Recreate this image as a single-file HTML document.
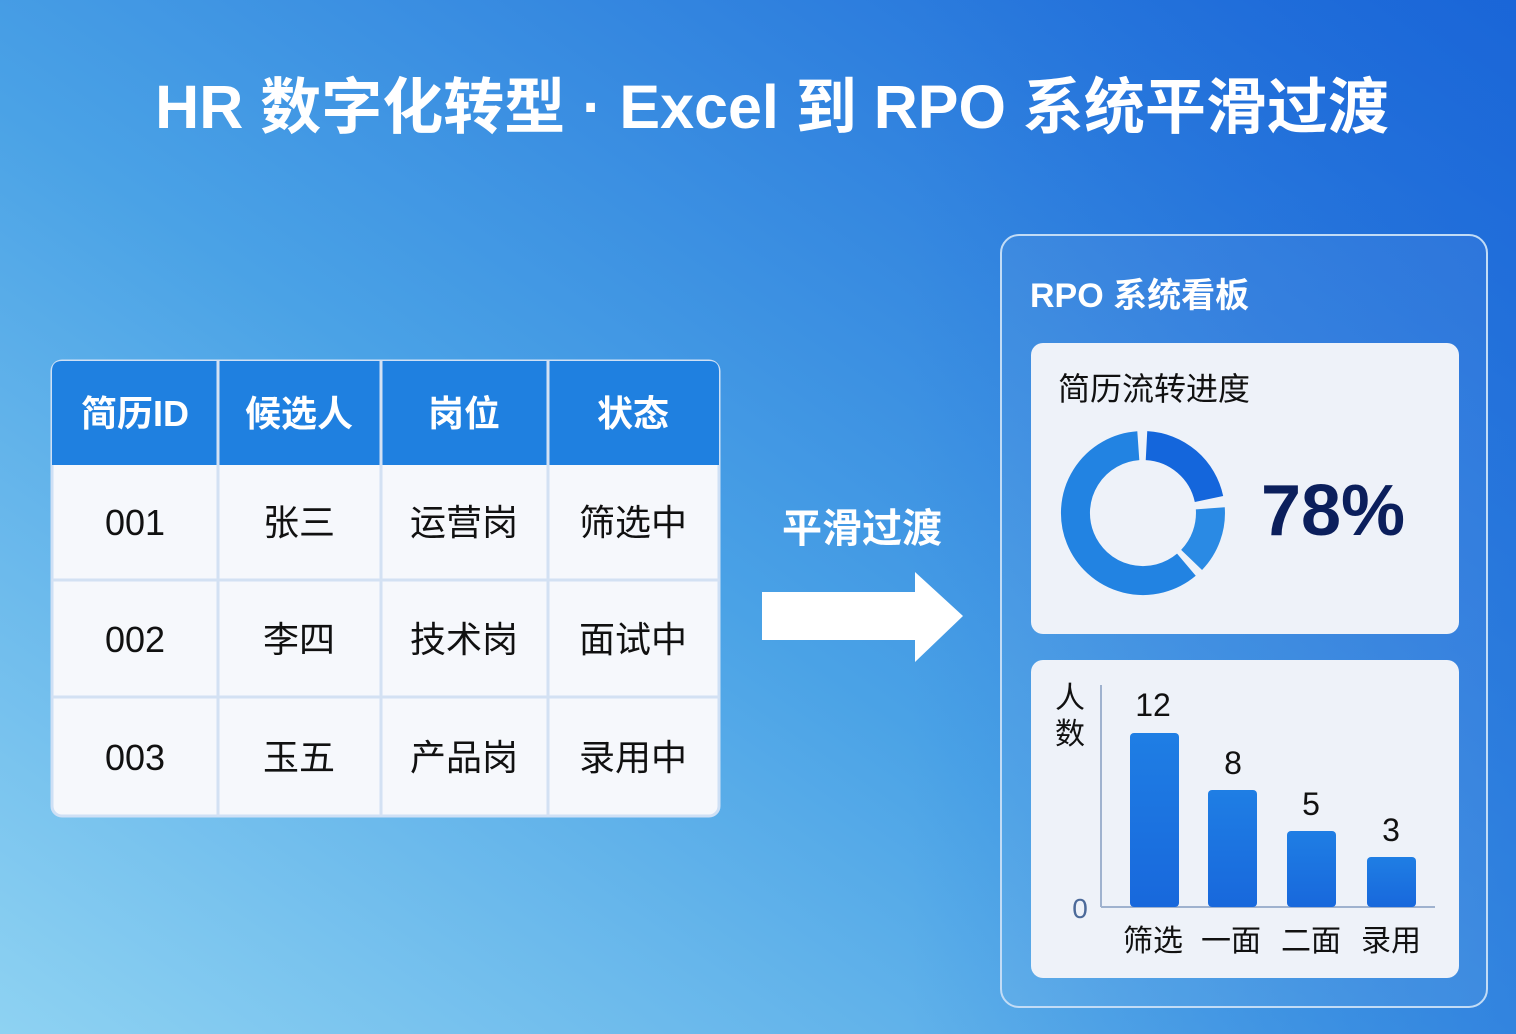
<!DOCTYPE html>
<html><head><meta charset="utf-8"><style>
html,body{margin:0;padding:0;}
body{width:1516px;height:1034px;overflow:hidden;font-family:"Liberation Sans","Noto Sans CJK SC",sans-serif;}
</style></head><body>
<svg width="1516" height="1034" viewBox="0 0 1516 1034" xmlns="http://www.w3.org/2000/svg" style="display:block;font-family:'Liberation Sans','Noto Sans CJK SC',sans-serif">
<defs>
<linearGradient id="bg" x1="0" y1="1" x2="1" y2="0">
<stop offset="0" stop-color="#8ed2f2"/>
<stop offset="0.45" stop-color="#4aa2e6"/>
<stop offset="1" stop-color="#1a66d8"/>
</linearGradient>
<linearGradient id="bg2" x1="0" y1="0" x2="1" y2="0">
<stop offset="0.6" stop-color="#1a66d8" stop-opacity="0"/>
<stop offset="1" stop-color="#1a66d8" stop-opacity="0.45"/>
</linearGradient>
<linearGradient id="bar" x1="0" y1="0" x2="0" y2="1">
<stop offset="0" stop-color="#1f7ee4"/><stop offset="1" stop-color="#1868dc"/>
</linearGradient>
</defs>
<rect width="1516" height="1034" fill="url(#bg)"/>
<rect width="1516" height="1034" fill="url(#bg2)"/>
<text x="772" y="128" text-anchor="middle" font-size="61" font-weight="bold" fill="#fff">HR 数字化转型 · Excel 到 RPO 系统平滑过渡</text>

<!-- table -->
<rect x="52" y="361" width="667" height="455" rx="10" fill="#f6f8fc" stroke="#cfe0f5" stroke-width="3"/>
<path d="M62 361 H709 Q719 361 719 371 V465 H52 V371 Q52 361 62 361Z" fill="#1f80e0"/>
<g stroke="#d3e1f3" stroke-width="3">
<line x1="52" y1="580" x2="719" y2="580"/><line x1="52" y1="697" x2="719" y2="697"/>
<line x1="218" y1="361" x2="218" y2="816"/><line x1="381" y1="361" x2="381" y2="816"/><line x1="548" y1="361" x2="548" y2="816"/>
</g>
<g font-size="36" text-anchor="middle" fill="#fff" font-weight="bold">
<text x="135" y="426">简历ID</text><text x="299" y="426">候选人</text><text x="464" y="426">岗位</text><text x="633" y="426">状态</text>
</g>
<g font-size="36" text-anchor="middle" fill="#111">
<text x="135" y="535">001</text><text x="299" y="535">张三</text><text x="464" y="535">运营岗</text><text x="633" y="535">筛选中</text>
<text x="135" y="652">002</text><text x="299" y="652">李四</text><text x="464" y="652">技术岗</text><text x="633" y="652">面试中</text>
<text x="135" y="770">003</text><text x="299" y="770">玉五</text><text x="464" y="770">产品岗</text><text x="633" y="770">录用中</text>
</g>

<!-- arrow -->
<text x="862" y="542" text-anchor="middle" font-size="40" font-weight="bold" fill="#fff">平滑过渡</text>
<path d="M762 592 H915 V572 L963 616 L915 662 V640 H762Z" fill="#fff"/>

<!-- panel -->
<rect x="1001" y="235" width="486" height="772" rx="18" fill="rgba(255,255,255,0.06)" stroke="#c2dcf6" stroke-width="2"/>
<text x="1030" y="307" font-size="34" font-weight="bold" fill="#fff">RPO 系统看板</text>
<rect x="1031" y="343" width="428" height="291" rx="12" fill="#eef2f9"/>
<text x="1058" y="400" font-size="32" fill="#111">简历流转进度</text>
<g fill="none" stroke-width="29">
<path d="M1146.5 445.6 A67.5 67.5 0 0 1 1209 499" stroke="#1466dc"/>
<path d="M1210.3 508.3 A67.5 67.5 0 0 1 1191.6 559.9" stroke="#2a8ae4"/>
<path d="M1186.4 564.7 A67.5 67.5 0 1 1 1138.3 445.7" stroke="#2283e2"/>
</g>
<text x="1333" y="535" text-anchor="middle" font-size="72" font-weight="bold" fill="#0b1f5c">78%</text>

<rect x="1031" y="660" width="428" height="318" rx="12" fill="#eef2f9"/>
<text x="1070" y="708" text-anchor="middle" font-size="30" fill="#111">人</text>
<text x="1070" y="744" text-anchor="middle" font-size="30" fill="#111">数</text>
<text x="1080" y="918" text-anchor="middle" font-size="28" fill="#4c6a9a">0</text>
<line x1="1101" y1="685" x2="1101" y2="907" stroke="#9fb2cf" stroke-width="2"/>
<line x1="1101" y1="907" x2="1435" y2="907" stroke="#9fb2cf" stroke-width="2"/>
<g fill="url(#bar)">
<rect x="1130" y="733" width="49" height="174" rx="4"/>
<rect x="1208" y="790" width="49" height="117" rx="4"/>
<rect x="1287" y="831" width="49" height="76" rx="4"/>
<rect x="1367" y="857" width="49" height="50" rx="4"/>
</g>
<g font-size="32" text-anchor="middle" fill="#111">
<text x="1153" y="716">12</text><text x="1233" y="774">8</text><text x="1311" y="815">5</text><text x="1391" y="841">3</text>
</g>
<g font-size="30" text-anchor="middle" fill="#111">
<text x="1153" y="951">筛选</text><text x="1231" y="951">一面</text><text x="1311" y="951">二面</text><text x="1391" y="951">录用</text>
</g>
</svg>
</body></html>
